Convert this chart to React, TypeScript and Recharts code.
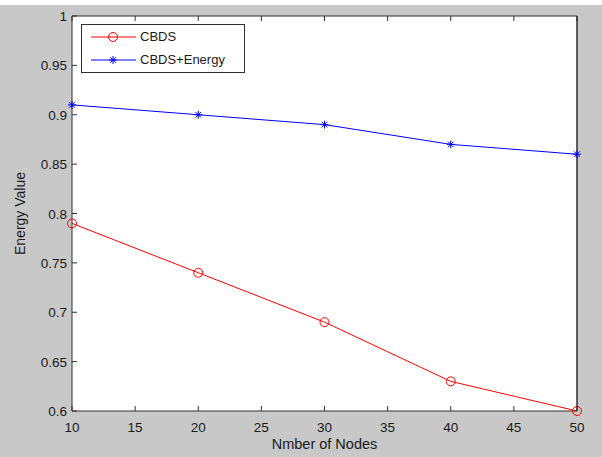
import { LineChart, Line, XAxis, YAxis } from 'recharts'

const nodes = [10, 20, 30, 40, 50]
const cbds = [0.79, 0.74, 0.69, 0.63, 0.6]
const cbdsEnergy = [0.91, 0.9, 0.89, 0.87, 0.86]
const xTicks = [10, 15, 20, 25, 30, 35, 40, 45, 50]
const yTicks = [0.6, 0.65, 0.7, 0.75, 0.8, 0.85, 0.9, 0.95, 1]

const data = nodes.map((n, i) => ({ n, cbds: cbds[i], energy: cbdsEnergy[i] }))

const FONT = '"Liberation Sans", Arial, sans-serif'
const AXIS = '#303030'
const TICK = 5

// matlab style ticks: point inward
const BottomTick = (props: any) => {
  const { x, y, payload } = props
  return (
    <g>
      <line x1={x} y1={y} x2={x} y2={y - TICK} stroke={AXIS} />
      <text x={x} y={y + 21} textAnchor="middle" fontSize={13.5} fontFamily={FONT} fill="#1a1a1a">
        {payload.value}
      </text>
    </g>
  )
}

const TopTick = (props: any) => {
  const { x, y } = props
  return <line x1={x} y1={y} x2={x} y2={y + TICK} stroke={AXIS} />
}

const LeftTick = (props: any) => {
  const { x, y, payload } = props
  return (
    <g>
      <line x1={x} y1={y} x2={x + TICK} y2={y} stroke={AXIS} />
      <text x={x - 5} y={y + 5} textAnchor="end" fontSize={13.5} fontFamily={FONT} fill="#1a1a1a">
        {payload.value}
      </text>
    </g>
  )
}

const RightTick = (props: any) => {
  const { x, y } = props
  return <line x1={x} y1={y} x2={x - TICK} y2={y} stroke={AXIS} />
}

const CircleDot = (props: any) => {
  const { cx, cy } = props
  return <circle cx={cx} cy={cy} r={4.5} fill="none" stroke="#ff0000" strokeWidth={1} />
}

const StarDot = (props: any) => {
  const { cx, cy } = props
  const r = 4
  const d = 2.8
  return (
    <g stroke="#0000ff" strokeWidth={1}>
      <line x1={cx - r} y1={cy} x2={cx + r} y2={cy} />
      <line x1={cx} y1={cy - r} x2={cx} y2={cy + r} />
      <line x1={cx - d} y1={cy - d} x2={cx + d} y2={cy + d} />
      <line x1={cx - d} y1={cy + d} x2={cx + d} y2={cy - d} />
    </g>
  )
}

const legendItems = [
  { name: 'CBDS', color: '#ff0000', dot: 'o', top: 12 },
  { name: 'CBDS+Energy', color: '#0000ff', dot: '*', top: 35 },
]

const LegendBox = () => (
  <div
    style={{
      position: 'absolute',
      left: 81,
      top: 24,
      width: 164,
      height: 49,
      border: `1px solid ${AXIS}`,
      background: '#fff',
      fontFamily: FONT,
      fontSize: 13,
      color: '#1a1a1a',
      boxSizing: 'border-box',
    }}
  >
    {legendItems.map((it) => (
      <div key={it.name}>
        <svg width={50} height={12} style={{ position: 'absolute', left: 8, top: it.top - 6 }}>
          <line x1={1} y1={6} x2={46} y2={6} stroke={it.color} />
          {it.dot === 'o' ? <CircleDot cx={23} cy={6} /> : <StarDot cx={23} cy={6} />}
        </svg>
        <span style={{ position: 'absolute', left: 58, top: it.top - 8, lineHeight: '16px' }}>{it.name}</span>
      </div>
    ))}
  </div>
)

export default function App() {
  return (
    <div
      style={{
        position: 'absolute',
        left: 0,
        top: 0,
        width: 602,
        height: 457,
        background: '#c8c8c8',
        overflow: 'hidden',
      }}
    >
      <div style={{ position: 'absolute', left: 0, top: 0, width: 602, height: 5, background: '#fff' }} />
      <div style={{ position: 'absolute', left: 0, top: 0 }}>
        <LineChart width={602} height={457} data={data} margin={{ top: 0, right: 0, bottom: 0, left: 0 }}>
          <rect x={72} y={16} width={505} height={395} fill="#fff" />
          <XAxis
            xAxisId="b"
            dataKey="n"
            type="number"
            domain={[10, 50]}
            ticks={xTicks}
            height={46}
            tickSize={0}
            tickMargin={0}
            tick={<BottomTick />}
            axisLine={{ stroke: AXIS }}
            label={{ value: 'Nmber of Nodes', position: 'insideBottom', offset: 8, fontSize: 14.5, fontFamily: FONT, fill: '#1a1a1a' }}
          />
          <XAxis
            xAxisId="t"
            orientation="top"
            dataKey="n"
            type="number"
            domain={[10, 50]}
            ticks={xTicks}
            height={16}
            tickSize={0}
            tickMargin={0}
            tick={<TopTick />}
            axisLine={{ stroke: AXIS }}
          />
          <YAxis
            yAxisId="l"
            type="number"
            domain={[0.6, 1]}
            ticks={yTicks}
            width={72}
            tickSize={0}
            tickMargin={0}
            tick={<LeftTick />}
            axisLine={{ stroke: AXIS }}
            label={{ value: 'Energy Value', angle: -90, position: 'insideLeft', offset: 20, style: { textAnchor: 'middle' }, fontSize: 14, fontFamily: FONT, fill: '#1a1a1a' }}
          />
          <YAxis
            yAxisId="r"
            orientation="right"
            type="number"
            domain={[0.6, 1]}
            ticks={yTicks}
            width={25}
            tickSize={0}
            tickMargin={0}
            tick={<RightTick />}
            axisLine={{ stroke: AXIS, strokeWidth: 1.5 }}
          />
          <Line
            xAxisId="b"
            yAxisId="l"
            dataKey="cbds"
            name="CBDS"
            stroke="#ff0000"
            strokeWidth={1}
            dot={<CircleDot />}
            activeDot={false}
            isAnimationActive={false}
          />
          <Line
            xAxisId="b"
            yAxisId="l"
            dataKey="energy"
            name="CBDS+Energy"
            stroke="#0000ff"
            strokeWidth={1}
            dot={<StarDot />}
            activeDot={false}
            isAnimationActive={false}
          />
        </LineChart>
      </div>
      <LegendBox />
    </div>
  )
}
